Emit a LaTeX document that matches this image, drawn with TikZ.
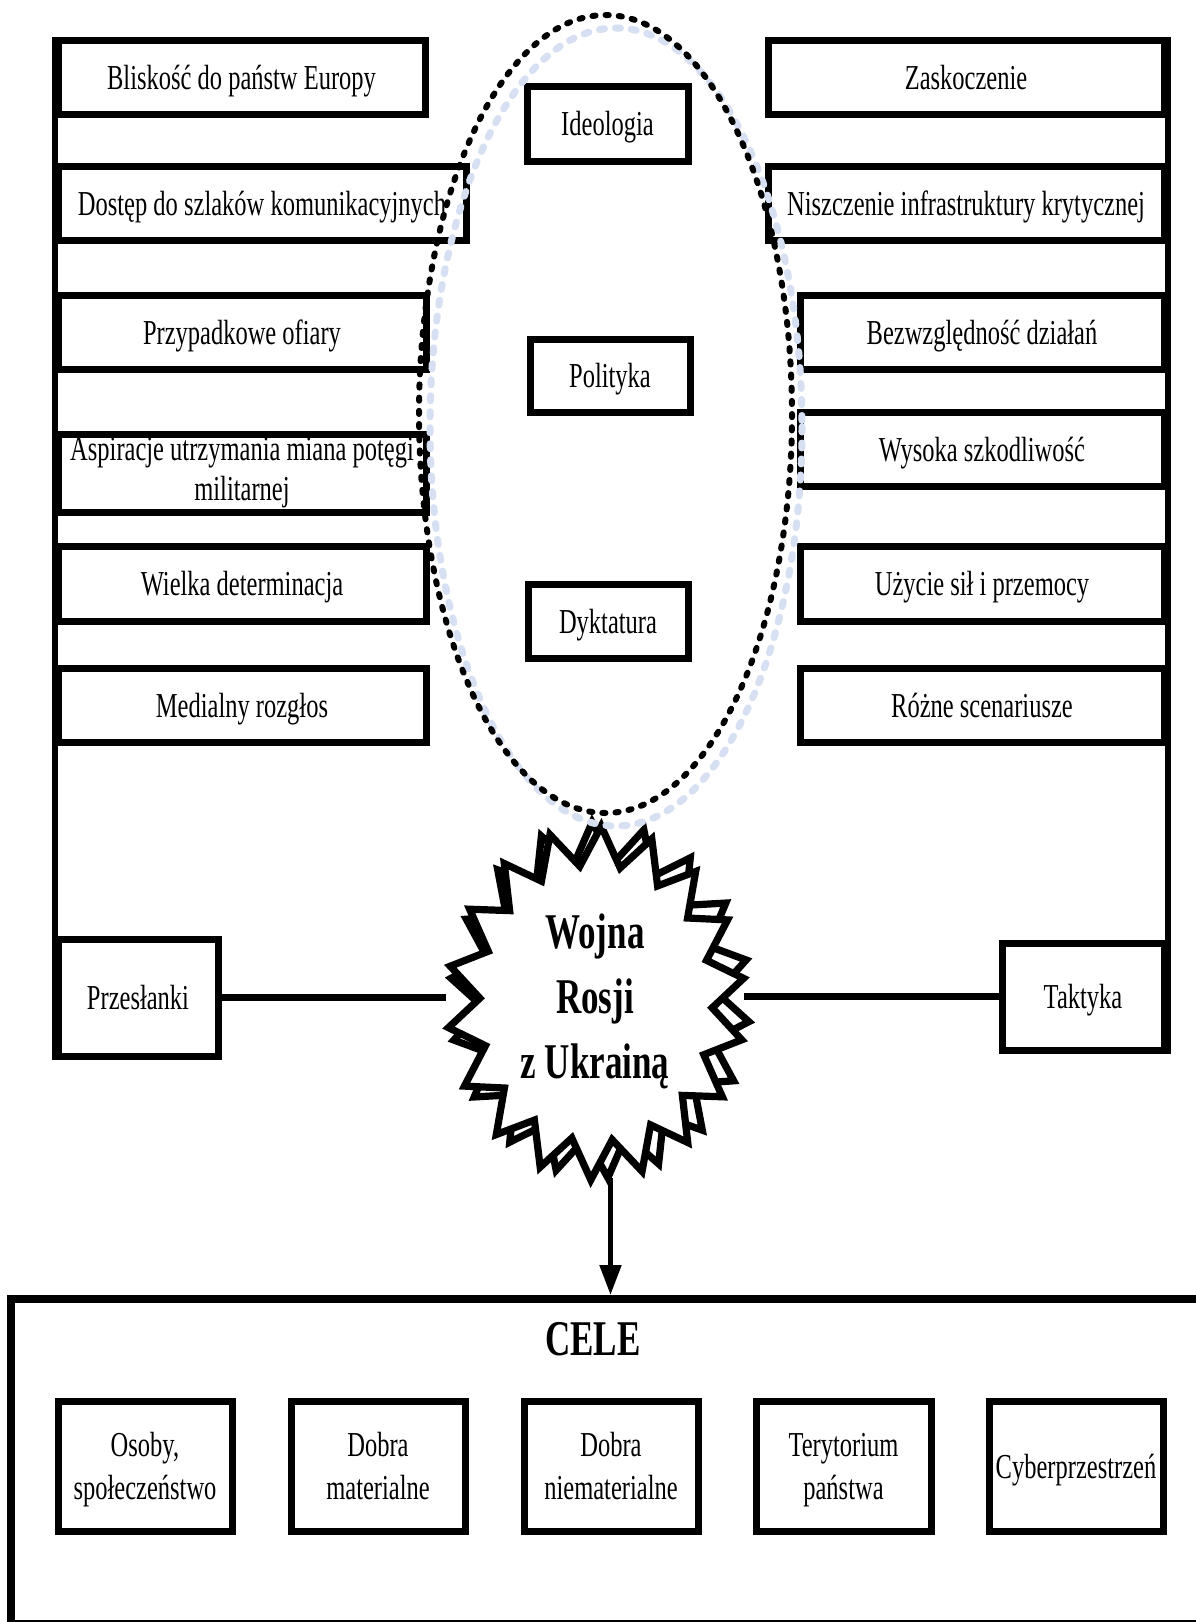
\documentclass[tikz,border=0pt]{standalone}
\usepackage{fontspec}
\setmainfont{Liberation Serif}[FakeStretch=0.7]
\usetikzlibrary{arrows.meta,shapes.geometric,backgrounds}
\definecolor{haze}{RGB}{214,224,242}

\tikzset{
  box/.style={draw, line width=3.5pt, fill=white, inner sep=0pt, align=center,
    text depth=0pt, font=\fontsize{17.5}{21.5}\selectfont},
  spine/.style={line width=3pt},
  wire/.style={line width=3.5pt},
  arrowline/.style={line width=2.5pt, -{Triangle[length=15pt,width=10.5pt]}},
  starline/.style={draw, line width=3.6pt, fill=white},
  wartext/.style={ellipse, inner sep=0pt, minimum width=149pt, minimum height=177pt,
    align=center, font=\bfseries\fontsize{25}{32.5}\selectfont},
  titletext/.style={inner sep=0pt, font=\bfseries\fontsize{25}{30}\selectfont},
  celebox/.style={draw, line width=4pt, fill=white, inner sep=0pt},
  blackring/.style={line width=3pt, line cap=round, dash pattern=on 1.6pt off 5pt},
  bluering/.style={haze, line width=3.5pt, line cap=round, dash pattern=on 2.5pt off 5.5pt}
}

% box from its border corners (x1,y1)-(x2,y2), in pixel units
\newcommand\placebox[7][]{%
  \node[box,#1,minimum width={(#5-#3)*0.5pt},minimum height={(#6-#4)*0.5pt}]
    (#2) at ({(#3+#5)/2},{(#4+#6)/2}) {#7};}

\begin{document}
\begin{tikzpicture}[x=0.5pt,y=-0.5pt]
\useasboundingbox (0,0) rectangle (1195,1622);

% premises (left column)
\placebox{l1}{58}{40}{425}{114}{Bliskość do państw Europy}
\placebox{l2}{58}{166}{466}{240}{Dostęp do szlaków komunikacyjnych}
\placebox{l3}{58}{295}{426}{369}{Przypadkowe ofiary}
\placebox[text depth={}, font=\fontsize{17.5}{20}\selectfont]{l4}{58}{434}{426}{512}{Aspiracje utrzymania miana potęgi\\militarnej}
\placebox{l5}{58}{546}{426}{621}{Wielka determinacja}
\placebox{l6}{58}{668}{426}{742}{Medialny rozgłos}
\placebox{pr}{58}{939}{218}{1056}{Przesłanki}

% tactics (right column)
\placebox{r1}{768}{40}{1164}{114}{Zaskoczenie}
\placebox{r2}{768}{166}{1164}{240}{Niszczenie infrastruktury krytycznej}
\placebox{r3}{800}{295}{1164}{369}{Bezwzględność działań}
\placebox{r4}{800}{412}{1164}{486}{Wysoka szkodliwość}
\placebox{r5}{800}{546}{1164}{621}{Użycie sił i przemocy}
\placebox{r6}{800}{668}{1164}{742}{Różne scenariusze}
\placebox{tk}{1002}{943}{1164}{1050}{Taktyka}

% centre column
\placebox{id}{527}{86}{688}{161}{Ideologia}
\placebox{po}{530}{339}{690}{412}{Polityka}
\placebox{dy}{528}{584}{688}{658}{Dyktatura}

% central event
\node[wartext] (war) at (595,1001) {Wojna\\Rosji\\z Ukrainą};

% goals
\node[celebox, minimum width=599.5pt, minimum height=162.5pt] (cele) at (610.5,1461.5) {};
\node[titletext] (celetitle) at (593,1339) {CELE};
\placebox{g1}{58}{1401}{232}{1531}{Osoby,\\społeczeństwo}
\placebox{g2}{291}{1401}{465}{1531}{Dobra\\materialne}
\placebox{g3}{524}{1401}{698}{1531}{Dobra\\niematerialne}
\placebox{g4}{756}{1401}{931}{1531}{Terytorium\\państwa}
\placebox{g5}{989}{1401}{1163}{1531}{Cyberprzestrzeń}

\begin{pgfonlayer}{background}
  \fill[white] (0,0) rectangle (1195,1622);
  \draw[spine] (l1.north west) -- (pr.south west);
  \draw[spine] (r1.north east) -- (tk.south east);
  \draw[wire] (pr.east) -- (pr.east -| war.west);
  \draw[wire] (tk.west) -- (tk.west -| war.east);
  \draw[arrowline] (war.south -| cele.north) -- (cele.north);
  % explosion outline, drawn twice with a slight twist
  \draw[starline] plot[samples at={0,...,35}, variable=\k]
    ({600+150*(1-0.22*mod(\k,2))*cos(93+10*\k)},
     {1000-178*(1-0.22*mod(\k,2))*sin(93+10*\k)}) -- cycle;
  \draw[starline] plot[samples at={0,...,35}, variable=\k]
    ({596+149*(1-0.22*mod(\k,2))*cos(88+10*\k)},
     {1003-177*(1-0.22*mod(\k,2))*sin(88+10*\k)}) -- cycle;
\end{pgfonlayer}

% dashed rings round the centre column
\draw[bluering] (616,427) ellipse [x radius=186, y radius=399];
\draw[blackring] (605.5,414) ellipse [x radius=186.5, y radius=399];
\end{tikzpicture}
\end{document}
